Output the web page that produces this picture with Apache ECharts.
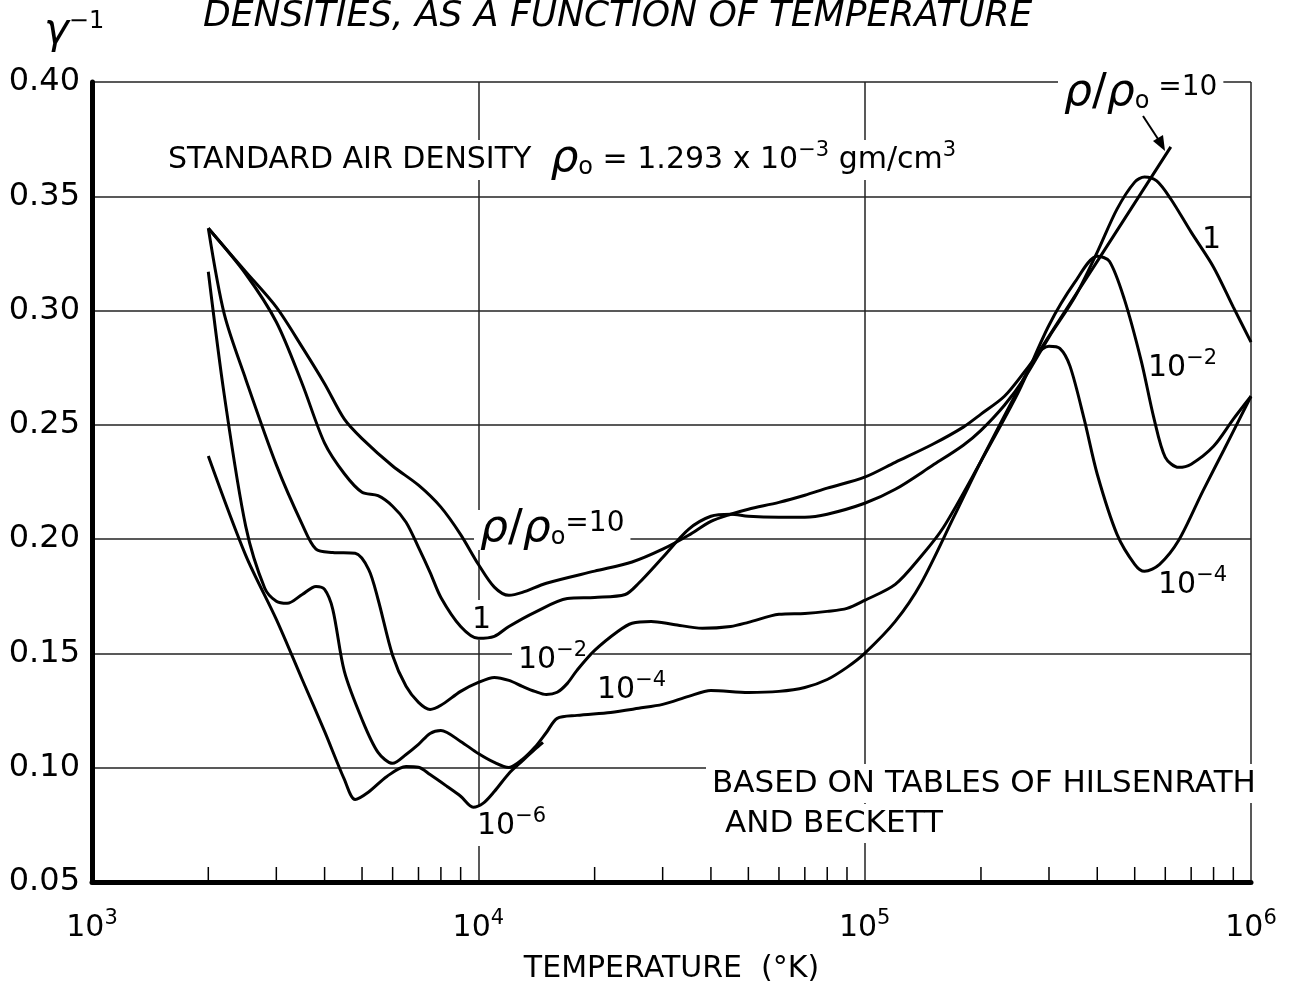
<!DOCTYPE html>
<html>
<head>
<meta charset="utf-8">
<script src="https://cdn.jsdelivr.net/npm/echarts/dist/echarts.min.js"></script>
<style>
  html, body { margin: 0; background: #fff; }
  #chart { width: 1292px; height: 984px; }
</style>
</head>
<body>
<div id="chart"></div>
<script>
// gamma-1 of air vs temperature, one pair of arrays per density ratio
const t10 = [2000, 2500, 3000, 3500, 4000, 4500, 5000, 6000, 7000, 8000, 9000, 10000, 11000, 12000, 13000, 15000, 20000, 25000, 30000, 35000, 40000, 45000, 50000, 60000, 70000, 80000, 100000, 120000, 150000, 180000, 200000, 230000, 260000, 280000, 620000];
const g10 = [0.336, 0.317, 0.3015, 0.284, 0.268, 0.2525, 0.244, 0.232, 0.2236, 0.214, 0.202, 0.189, 0.179, 0.1754, 0.1767, 0.1807, 0.186, 0.190, 0.1956, 0.2017, 0.2078, 0.2109, 0.2131, 0.2161, 0.2192, 0.2223, 0.2271, 0.2336, 0.2415, 0.249, 0.2547, 0.2625, 0.2735, 0.281, 0.3716];

const t1 = [2000, 2500, 3000, 3500, 4000, 4500, 5000, 5500, 6000, 6500, 7000, 7500, 8000, 9000, 10000, 11000, 12000, 14000, 17000, 20000, 24000, 26000, 30000, 35000, 40000, 45000, 50000, 60000, 70000, 80000, 100000, 120000, 150000, 180000, 200000, 230000, 260000, 300000, 350000, 400000, 450000, 500000, 530000, 570000, 620000, 700000, 800000, 900000, 1000000];
const g1 = [0.336, 0.316, 0.295, 0.268, 0.242, 0.2286, 0.2205, 0.219, 0.2144, 0.2074, 0.1964, 0.1855, 0.1745, 0.1618, 0.1566, 0.1575, 0.1618, 0.168, 0.174, 0.1745, 0.1758, 0.1807, 0.192, 0.2043, 0.21, 0.2109, 0.210, 0.2096, 0.2096, 0.2109, 0.2157, 0.2218, 0.2323, 0.2411, 0.2476, 0.2586, 0.2708, 0.2884, 0.3059, 0.3256, 0.3444, 0.3562, 0.3584, 0.3567, 0.3488, 0.3343, 0.319, 0.3015, 0.2862];

const tm2 = [2000, 2200, 2500, 3000, 3500, 3800, 4200, 4800, 5200, 5500, 6000, 6500, 7000, 7500, 8000, 9000, 10000, 11000, 12000, 13000, 14000, 15000, 16000, 17000, 18000, 20000, 23000, 25000, 28000, 32000, 38000, 45000, 50000, 60000, 70000, 80000, 90000, 100000, 120000, 140000, 160000, 200000, 250000, 300000, 350000, 400000, 430000, 470000, 520000, 560000, 600000, 650000, 700000, 800000, 900000, 1000000];
const gm2 = [0.336, 0.2984, 0.27, 0.2325, 0.2065, 0.1956, 0.1942, 0.1938, 0.1868, 0.1737, 0.1491, 0.1356, 0.1286, 0.1255, 0.1273, 0.1334, 0.1373, 0.1395, 0.1382, 0.1356, 0.1334, 0.132, 0.133, 0.1369, 0.1426, 0.1513, 0.1597, 0.1632, 0.164, 0.1627, 0.161, 0.1618, 0.1636, 0.1671, 0.1675, 0.1684, 0.1697, 0.1732, 0.1802, 0.1925, 0.2052, 0.2341, 0.2643, 0.2936, 0.3124, 0.3238, 0.3216, 0.305, 0.2779, 0.2533, 0.2358, 0.2314, 0.2328, 0.2406, 0.2525, 0.2625];

const tm4 = [2000, 2200, 2500, 2800, 3000, 3200, 3500, 3800, 4000, 4200, 4500, 5000, 5500, 6000, 6500, 7000, 7500, 8000, 9000, 10000, 11000, 12000, 13000, 14000, 15000, 16000, 18000, 22000, 26000, 30000, 35000, 40000, 50000, 60000, 70000, 80000, 90000, 100000, 120000, 140000, 170000, 200000, 250000, 280000, 300000, 320000, 340000, 370000, 400000, 450000, 500000, 530000, 580000, 650000, 750000, 850000, 1000000];
const gm4 = [0.317, 0.263, 0.2056, 0.1785, 0.1728, 0.1719, 0.1758, 0.1793, 0.178, 0.1693, 0.1421, 0.1211, 0.1067, 0.1019, 0.1058, 0.1102, 0.115, 0.1163, 0.1115, 0.1062, 0.1023, 0.1001, 0.1036, 0.1089, 0.1154, 0.1216, 0.1229, 0.1242, 0.126, 0.1277, 0.1312, 0.1338, 0.1329, 0.1334, 0.1351, 0.1386, 0.1439, 0.15, 0.164, 0.1807, 0.2096, 0.2341, 0.2656, 0.281, 0.2844, 0.2835, 0.2757, 0.2525, 0.2284, 0.2021, 0.189, 0.1859, 0.189, 0.1995, 0.2209, 0.2389, 0.2625];

const tm6 = [2000, 2500, 3000, 3500, 4000, 4500, 4800, 5200, 5800, 6500, 7000, 7500, 8300, 9000, 9700, 10300, 11000, 12000, 13000, 14000, 14700];
const gm6 = [0.2364, 0.1929, 0.1649, 0.1386, 0.1159, 0.0949, 0.0861, 0.0894, 0.0962, 0.1005, 0.1002, 0.097, 0.0918, 0.0875, 0.0827, 0.0845, 0.0896, 0.0975, 0.103, 0.108, 0.1111];

// short ticks along the bottom axis
const minorTicks = [2000, 3000, 4000, 5000, 6000, 7000, 8000, 9000,
  20000, 30000, 40000, 50000, 60000, 70000, 80000, 90000,
  200000, 300000, 400000, 500000, 600000, 700000, 800000, 900000];

const yTicks = { min: 0.05, max: 0.40, step: 0.05 };

const FONT = 'DejaVu Sans';
const zip = (t, g) => t.map((v, i) => [v, g[i]]);

const RICH = {
  b: { fontFamily: FONT, fontSize: 30, lineHeight: 40, fill: '#000' },
  sup: { fontFamily: FONT, fontSize: 21, lineHeight: 22, verticalAlign: 'top', fill: '#000' },
  sub: { fontFamily: FONT, fontSize: 24, lineHeight: 24, verticalAlign: 'bottom', fill: '#000' },
  rho: { fontFamily: FONT, fontSize: 44, lineHeight: 40, fontStyle: 'italic', fill: '#000' },
  sl: { fontFamily: FONT, fontSize: 44, lineHeight: 40, fill: '#000' },
  e: { fontFamily: FONT, fontSize: 28, lineHeight: 40, verticalAlign: 'top', fill: '#000' }
};

function note(left, top, text, extra) {
  return Object.assign({
    type: 'text', left: left, top: top, z: 1,
    style: {
      text: text, fill: '#000', fontFamily: FONT, fontSize: 30,
      backgroundColor: '#fff', padding: [0, 6], rich: RICH
    }
  }, extra || {});
}

function curve(name, data) {
  return {
    name: name, type: 'line', data: data, showSymbol: false, smooth: 0.3,
    lineStyle: { color: '#000', width: 3 }, z: 3, animation: false
  };
}

const chart = echarts.init(document.getElementById('chart'));
chart.setOption({
  animation: false,
  backgroundColor: '#fff',
  grid: { left: 92, right: 41, top: 82, bottom: 102, containLabel: false, outerBoundsMode: 'none' },
  xAxis: {
    type: 'log', logBase: 10, min: 1000, max: 1000000,
    axisLine: { onZero: false, lineStyle: { color: '#000', width: 5 } },
    axisTick: { show: false },
    splitLine: { show: true, lineStyle: { color: '#222', width: 1.5 } },
    axisLabel: {
      margin: 26, showMinLabel: true, showMaxLabel: true,
      formatter: v => '{b|10}{s|' + Math.round(Math.log10(v)) + '}',
      rich: {
        b: { fontFamily: FONT, fontSize: 30, lineHeight: 40, color: '#000' },
        s: { fontFamily: FONT, fontSize: 21, lineHeight: 22, verticalAlign: 'top', color: '#000' }
      }
    },
    name: 'TEMPERATURE  (°K)', nameLocation: 'middle', nameGap: 72,
    nameTextStyle: { fontFamily: FONT, fontSize: 30, color: '#000' }
  },
  yAxis: {
    type: 'value', min: yTicks.min, max: yTicks.max, interval: yTicks.step,
    axisLine: { show: true, onZero: false, lineStyle: { color: '#000', width: 5 } },
    axisTick: { show: false },
    splitLine: { show: true, lineStyle: { color: '#222', width: 1.5 } },
    axisLabel: {
      margin: 12, fontFamily: FONT, fontSize: 32, color: '#000',
      formatter: v => v.toFixed(2)
    }
  },
  series: [
    curve('10', zip(t10, g10)),
    curve('1', zip(t1, g1)),
    curve('1e-2', zip(tm2, gm2)),
    curve('1e-4', zip(tm4, gm4)),
    curve('1e-6', zip(tm6, gm6)),
    {
      type: 'custom', z: 3, silent: true,
      data: minorTicks.map(t => [t, yTicks.min]),
      renderItem: (params, api) => {
        const p = api.coord([api.value(0), api.value(1)]);
        return {
          type: 'line',
          shape: { x1: p[0], y1: p[1], x2: p[0], y2: p[1] - 15 },
          style: { stroke: '#000', lineWidth: 1.5 }
        };
      }
    }
  ],
  graphic: [
    // title, cut off at the top edge as in the scan
    { type: 'text', left: 203, top: -1, z: 5,
      style: { text: 'DENSITIES, AS A FUNCTION OF TEMPERATURE', fill: '#000',
        fontFamily: FONT, fontSize: 36, fontStyle: 'italic' } },
    // y axis name
    { type: 'text', left: 44, top: 10, z: 5,
      style: { text: '{g|γ}{m|−1}', rich: {
        g: { fontFamily: FONT, fontSize: 42, fontStyle: 'italic', lineHeight: 44, fill: '#000' },
        m: { fontFamily: FONT, fontSize: 24, lineHeight: 34, verticalAlign: 'top', fill: '#000' } } } },
    note(162, 138, 'STANDARD AIR DENSITY  {rho|ρ}{sub|o}{b| = 1.293 x 10}{sup|−3}{b| gm/cm}{sup|3}'),
    note(1058, 72, '{rho|ρ}{sl|/}{rho|ρ}{sub|o}{e| =10}'),
    note(474, 508, '{rho|ρ}{sl|/}{rho|ρ}{sub|o}{e|=10}'),
    note(466, 600, '{b|1}'),
    note(512, 640, '{b|10}{sup|−2}'),
    note(591, 670, '{b|10}{sup|−4}'),
    note(471, 806, '{b|10}{sup|−6}'),
    note(1196, 220, '{b|1}'),
    note(1142, 348, '{b|10}{sup|−2}'),
    note(1152, 565, '{b|10}{sup|−4}'),
    note(706, 764, '', { style: {
      text: 'BASED ON TABLES OF HILSENRATH', fill: '#000', fontFamily: FONT, fontSize: 31,
      backgroundColor: '#fff', padding: [4, 6] } }),
    note(719, 804, '', { style: {
      text: 'AND BECKETT', fill: '#000', fontFamily: FONT, fontSize: 31,
      backgroundColor: '#fff', padding: [4, 6] } }),
    // arrow pointing at the end of the rho/rho0 = 10 line
    { type: 'line', z: 5, shape: { x1: 1143, y1: 116, x2: 1160, y2: 142 },
      style: { stroke: '#000', lineWidth: 2 } },
    { type: 'polygon', z: 5, shape: { points: [[1165, 151], [1153, 141], [1163, 135]] },
      style: { fill: '#000' } }
  ]
});
</script>
</body>
</html>
